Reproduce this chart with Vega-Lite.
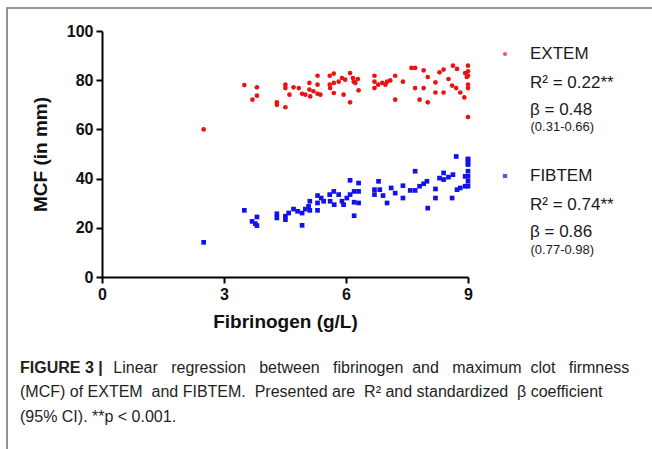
{
  "$schema": "https://vega.github.io/schema/vega-lite/v6.json",
  "width": 366,
  "height": 246,
  "autosize": {"type": "none"},
  "padding": {"left": 102, "top": 31, "right": 184, "bottom": 172},
  "background": "white",
  "title": {
    "text": "FIGURE 3 |",
    "subtitle": [
      "\u200b\u00a0\u00a0\u00a0\u00a0\u00a0\u00a0\u00a0\u00a0\u00a0\u00a0\u00a0\u00a0\u00a0\u00a0\u00a0\u00a0\u00a0\u00a0\u00a0\u00a0\u00a0Linear \u00a0\u00a0regression \u00a0\u00a0between \u00a0\u00a0fibrinogen \u00a0and \u00a0\u00a0maximum \u00a0clot \u00a0\u00a0firmness",
      "(MCF) of EXTEM \u00a0and FIBTEM. \u00a0Presented are \u00a0R² and standardized \u00a0β coefficient",
      "(95% CI). **p < 0.001."
    ],
    "orient": "bottom",
    "anchor": "start",
    "frame": "group",
    "offset": -450,
    "dx": -82,
    "font": "Liberation Sans",
    "fontSize": 16,
    "fontWeight": "bold",
    "color": "#231f20",
    "subtitleFont": "Liberation Sans",
    "subtitleFontSize": 16,
    "subtitleFontWeight": "normal",
    "subtitleColor": "#231f20",
    "subtitleLineHeight": 24.5,
    "subtitlePadding": -16
  },
  "data": {
    "values": [
      {"group": "EXTEM", "fibrinogen": 2.5, "mcf": 60},
      {"group": "EXTEM", "fibrinogen": 3.5, "mcf": 78},
      {"group": "EXTEM", "fibrinogen": 3.81, "mcf": 77.1},
      {"group": "EXTEM", "fibrinogen": 3.7, "mcf": 72.1},
      {"group": "EXTEM", "fibrinogen": 3.81, "mcf": 73.7},
      {"group": "EXTEM", "fibrinogen": 4.3, "mcf": 71},
      {"group": "EXTEM", "fibrinogen": 4.3, "mcf": 70},
      {"group": "EXTEM", "fibrinogen": 4.51, "mcf": 69},
      {"group": "EXTEM", "fibrinogen": 4.51, "mcf": 78.2},
      {"group": "EXTEM", "fibrinogen": 4.51, "mcf": 76.8},
      {"group": "EXTEM", "fibrinogen": 4.61, "mcf": 74.1},
      {"group": "EXTEM", "fibrinogen": 4.71, "mcf": 77.1},
      {"group": "EXTEM", "fibrinogen": 4.84, "mcf": 76.8},
      {"group": "EXTEM", "fibrinogen": 4.92, "mcf": 74.5},
      {"group": "EXTEM", "fibrinogen": 5.0, "mcf": 74.1},
      {"group": "EXTEM", "fibrinogen": 5.1, "mcf": 78.9},
      {"group": "EXTEM", "fibrinogen": 5.1, "mcf": 76.2},
      {"group": "EXTEM", "fibrinogen": 5.12, "mcf": 73.4},
      {"group": "EXTEM", "fibrinogen": 5.2, "mcf": 75.5},
      {"group": "EXTEM", "fibrinogen": 5.3, "mcf": 81.8},
      {"group": "EXTEM", "fibrinogen": 5.3, "mcf": 78.2},
      {"group": "EXTEM", "fibrinogen": 5.3, "mcf": 74.5},
      {"group": "EXTEM", "fibrinogen": 5.37, "mcf": 74.1},
      {"group": "EXTEM", "fibrinogen": 5.6, "mcf": 81.8},
      {"group": "EXTEM", "fibrinogen": 5.7, "mcf": 82.7},
      {"group": "EXTEM", "fibrinogen": 5.6, "mcf": 78.2},
      {"group": "EXTEM", "fibrinogen": 5.7, "mcf": 78.9},
      {"group": "EXTEM", "fibrinogen": 5.61, "mcf": 76.8},
      {"group": "EXTEM", "fibrinogen": 5.7, "mcf": 74.8},
      {"group": "EXTEM", "fibrinogen": 5.82, "mcf": 79.4},
      {"group": "EXTEM", "fibrinogen": 5.9, "mcf": 80.9},
      {"group": "EXTEM", "fibrinogen": 5.94, "mcf": 74.1},
      {"group": "EXTEM", "fibrinogen": 5.98, "mcf": 80.2},
      {"group": "EXTEM", "fibrinogen": 6.1, "mcf": 82.9},
      {"group": "EXTEM", "fibrinogen": 6.1, "mcf": 71},
      {"group": "EXTEM", "fibrinogen": 6.17, "mcf": 80.9},
      {"group": "EXTEM", "fibrinogen": 6.19, "mcf": 79.4},
      {"group": "EXTEM", "fibrinogen": 6.29, "mcf": 80.5},
      {"group": "EXTEM", "fibrinogen": 6.31, "mcf": 75.9},
      {"group": "EXTEM", "fibrinogen": 6.23, "mcf": 78.9},
      {"group": "EXTEM", "fibrinogen": 6.7, "mcf": 81.8},
      {"group": "EXTEM", "fibrinogen": 6.7, "mcf": 79.4},
      {"group": "EXTEM", "fibrinogen": 6.7, "mcf": 76.8},
      {"group": "EXTEM", "fibrinogen": 6.79, "mcf": 78.2},
      {"group": "EXTEM", "fibrinogen": 6.89, "mcf": 78.9},
      {"group": "EXTEM", "fibrinogen": 6.97, "mcf": 78.2},
      {"group": "EXTEM", "fibrinogen": 7.01, "mcf": 79.4},
      {"group": "EXTEM", "fibrinogen": 7.09, "mcf": 79.9},
      {"group": "EXTEM", "fibrinogen": 7.21, "mcf": 81.8},
      {"group": "EXTEM", "fibrinogen": 7.21, "mcf": 72.1},
      {"group": "EXTEM", "fibrinogen": 7.4, "mcf": 79.4},
      {"group": "EXTEM", "fibrinogen": 7.61, "mcf": 85},
      {"group": "EXTEM", "fibrinogen": 7.7, "mcf": 85},
      {"group": "EXTEM", "fibrinogen": 7.7, "mcf": 76.8},
      {"group": "EXTEM", "fibrinogen": 7.81, "mcf": 72.1},
      {"group": "EXTEM", "fibrinogen": 7.91, "mcf": 84},
      {"group": "EXTEM", "fibrinogen": 7.91, "mcf": 76.8},
      {"group": "EXTEM", "fibrinogen": 8.01, "mcf": 81.3},
      {"group": "EXTEM", "fibrinogen": 8.01, "mcf": 71},
      {"group": "EXTEM", "fibrinogen": 8.2, "mcf": 79.1},
      {"group": "EXTEM", "fibrinogen": 8.2, "mcf": 75},
      {"group": "EXTEM", "fibrinogen": 8.3, "mcf": 83.2},
      {"group": "EXTEM", "fibrinogen": 8.4, "mcf": 84.3},
      {"group": "EXTEM", "fibrinogen": 8.4, "mcf": 75},
      {"group": "EXTEM", "fibrinogen": 8.52, "mcf": 80.5},
      {"group": "EXTEM", "fibrinogen": 8.61, "mcf": 77.8},
      {"group": "EXTEM", "fibrinogen": 8.63, "mcf": 85.9},
      {"group": "EXTEM", "fibrinogen": 8.73, "mcf": 84.6},
      {"group": "EXTEM", "fibrinogen": 8.71, "mcf": 76.8},
      {"group": "EXTEM", "fibrinogen": 8.81, "mcf": 75},
      {"group": "EXTEM", "fibrinogen": 8.91, "mcf": 73},
      {"group": "EXTEM", "fibrinogen": 8.93, "mcf": 82.9},
      {"group": "EXTEM", "fibrinogen": 9.0, "mcf": 85.9},
      {"group": "EXTEM", "fibrinogen": 9.0, "mcf": 83.6},
      {"group": "EXTEM", "fibrinogen": 9.0, "mcf": 81.8},
      {"group": "EXTEM", "fibrinogen": 8.97, "mcf": 81.3},
      {"group": "EXTEM", "fibrinogen": 9.0, "mcf": 78.2},
      {"group": "EXTEM", "fibrinogen": 9.0, "mcf": 76.8},
      {"group": "EXTEM", "fibrinogen": 9.0, "mcf": 65},
      {"group": "FIBTEM", "fibrinogen": 2.5, "mcf": 14.1},
      {"group": "FIBTEM", "fibrinogen": 3.5, "mcf": 27.1},
      {"group": "FIBTEM", "fibrinogen": 3.69, "mcf": 22.6},
      {"group": "FIBTEM", "fibrinogen": 3.77, "mcf": 21.7},
      {"group": "FIBTEM", "fibrinogen": 3.81, "mcf": 24.4},
      {"group": "FIBTEM", "fibrinogen": 3.81, "mcf": 20.9},
      {"group": "FIBTEM", "fibrinogen": 4.3, "mcf": 25.7},
      {"group": "FIBTEM", "fibrinogen": 4.3, "mcf": 24},
      {"group": "FIBTEM", "fibrinogen": 4.51, "mcf": 23.3},
      {"group": "FIBTEM", "fibrinogen": 4.51, "mcf": 24.7},
      {"group": "FIBTEM", "fibrinogen": 4.59, "mcf": 26},
      {"group": "FIBTEM", "fibrinogen": 4.71, "mcf": 27.6},
      {"group": "FIBTEM", "fibrinogen": 4.81, "mcf": 26.7},
      {"group": "FIBTEM", "fibrinogen": 4.92, "mcf": 26},
      {"group": "FIBTEM", "fibrinogen": 4.92, "mcf": 21},
      {"group": "FIBTEM", "fibrinogen": 5.0, "mcf": 27.6},
      {"group": "FIBTEM", "fibrinogen": 5.08, "mcf": 28.7},
      {"group": "FIBTEM", "fibrinogen": 5.11, "mcf": 30.8},
      {"group": "FIBTEM", "fibrinogen": 5.11, "mcf": 27.1},
      {"group": "FIBTEM", "fibrinogen": 5.3, "mcf": 30.1},
      {"group": "FIBTEM", "fibrinogen": 5.3, "mcf": 33.1},
      {"group": "FIBTEM", "fibrinogen": 5.3, "mcf": 27.1},
      {"group": "FIBTEM", "fibrinogen": 5.39, "mcf": 32.1},
      {"group": "FIBTEM", "fibrinogen": 5.45, "mcf": 30.8},
      {"group": "FIBTEM", "fibrinogen": 5.6, "mcf": 33.5},
      {"group": "FIBTEM", "fibrinogen": 5.7, "mcf": 34.8},
      {"group": "FIBTEM", "fibrinogen": 5.61, "mcf": 30.8},
      {"group": "FIBTEM", "fibrinogen": 5.71, "mcf": 29.4},
      {"group": "FIBTEM", "fibrinogen": 5.82, "mcf": 33.5},
      {"group": "FIBTEM", "fibrinogen": 5.9, "mcf": 30.8},
      {"group": "FIBTEM", "fibrinogen": 5.94, "mcf": 29.4},
      {"group": "FIBTEM", "fibrinogen": 6.02, "mcf": 32.1},
      {"group": "FIBTEM", "fibrinogen": 6.1, "mcf": 39.3},
      {"group": "FIBTEM", "fibrinogen": 6.1, "mcf": 33.5},
      {"group": "FIBTEM", "fibrinogen": 6.2, "mcf": 34.8},
      {"group": "FIBTEM", "fibrinogen": 6.2, "mcf": 30.4},
      {"group": "FIBTEM", "fibrinogen": 6.2, "mcf": 24.9},
      {"group": "FIBTEM", "fibrinogen": 6.31, "mcf": 38.2},
      {"group": "FIBTEM", "fibrinogen": 6.31, "mcf": 34.8},
      {"group": "FIBTEM", "fibrinogen": 6.31, "mcf": 30.1},
      {"group": "FIBTEM", "fibrinogen": 6.7, "mcf": 35.5},
      {"group": "FIBTEM", "fibrinogen": 6.7, "mcf": 33.5},
      {"group": "FIBTEM", "fibrinogen": 6.8, "mcf": 38.9},
      {"group": "FIBTEM", "fibrinogen": 6.83, "mcf": 35.5},
      {"group": "FIBTEM", "fibrinogen": 6.91, "mcf": 33.1},
      {"group": "FIBTEM", "fibrinogen": 7.01, "mcf": 30.1},
      {"group": "FIBTEM", "fibrinogen": 7.11, "mcf": 36.2},
      {"group": "FIBTEM", "fibrinogen": 7.21, "mcf": 34.1},
      {"group": "FIBTEM", "fibrinogen": 7.4, "mcf": 37.1},
      {"group": "FIBTEM", "fibrinogen": 7.4, "mcf": 32.1},
      {"group": "FIBTEM", "fibrinogen": 7.58, "mcf": 35.2},
      {"group": "FIBTEM", "fibrinogen": 7.7, "mcf": 43},
      {"group": "FIBTEM", "fibrinogen": 7.7, "mcf": 35.2},
      {"group": "FIBTEM", "fibrinogen": 7.81, "mcf": 36.9},
      {"group": "FIBTEM", "fibrinogen": 7.91, "mcf": 37.9},
      {"group": "FIBTEM", "fibrinogen": 7.99, "mcf": 38.9},
      {"group": "FIBTEM", "fibrinogen": 8.01, "mcf": 28},
      {"group": "FIBTEM", "fibrinogen": 8.2, "mcf": 35.8},
      {"group": "FIBTEM", "fibrinogen": 8.2, "mcf": 32.1},
      {"group": "FIBTEM", "fibrinogen": 8.3, "mcf": 40.2},
      {"group": "FIBTEM", "fibrinogen": 8.4, "mcf": 42.3},
      {"group": "FIBTEM", "fibrinogen": 8.4, "mcf": 39.6},
      {"group": "FIBTEM", "fibrinogen": 8.52, "mcf": 40.6},
      {"group": "FIBTEM", "fibrinogen": 8.61, "mcf": 32.1},
      {"group": "FIBTEM", "fibrinogen": 8.63, "mcf": 41.6},
      {"group": "FIBTEM", "fibrinogen": 8.73, "mcf": 35.5},
      {"group": "FIBTEM", "fibrinogen": 8.81, "mcf": 36.2},
      {"group": "FIBTEM", "fibrinogen": 8.93, "mcf": 36.9},
      {"group": "FIBTEM", "fibrinogen": 9.0, "mcf": 47.7},
      {"group": "FIBTEM", "fibrinogen": 9.0, "mcf": 45.7},
      {"group": "FIBTEM", "fibrinogen": 9.0, "mcf": 43},
      {"group": "FIBTEM", "fibrinogen": 9.0, "mcf": 40.9},
      {"group": "FIBTEM", "fibrinogen": 9.0, "mcf": 38.9},
      {"group": "FIBTEM", "fibrinogen": 9.0, "mcf": 36.9},
      {"group": "FIBTEM", "fibrinogen": 8.93, "mcf": 40.9},
      {"group": "FIBTEM", "fibrinogen": 8.71, "mcf": 49},
      {"group": "FIBTEM", "fibrinogen": 9.0, "mcf": 48},
      {"group": "FIBTEM", "fibrinogen": 9.0, "mcf": 46.3}
    ]
  },
  "mark": {"type": "point", "filled": true},
  "encoding": {
    "x": {
      "field": "fibrinogen", "type": "quantitative",
      "scale": {"domain": [0, 9], "nice": false, "zero": false},
      "axis": {"values": [0, 3, 6, 9], "title": "Fibrinogen (g/L)", "titlePadding": 10}
    },
    "y": {
      "field": "mcf", "type": "quantitative",
      "scale": {"domain": [0, 100], "nice": false},
      "axis": {"values": [0, 20, 40, 60, 80, 100], "title": "MCF (in mm)", "titlePadding": 16}
    },
    "color": {
      "field": "group", "type": "nominal",
      "scale": {"range": ["#ee1111", "#1111ee"]},
      "legend": {"orient": "none", "legendX": 394.5, "legendY": 14.5, "title": null, "padding": 0,
                 "labelFontSize": 17, "labelOffset": 16.5, "symbolSize": 18, "rowPadding": 104}
    },
    "shape": {
      "field": "group", "type": "nominal",
      "scale": {"range": ["circle", "square"]},
      "legend": {"orient": "none", "legendX": 394.5, "legendY": 14.5, "title": null, "padding": 0,
                 "labelFontSize": 17, "labelOffset": 16.5, "symbolSize": 18, "rowPadding": 104}
    },
    "opacity": {
      "field": "group", "type": "ordinal",
      "scale": {"domain": ["EXTEM", "FIBTEM"], "range": [1, 1]},
      "legend": {"orient": "none", "legendX": 411, "legendY": 35.5, "title": null, "padding": 0,
                 "labelFontSize": 17, "labelOffset": 0, "symbolSize": 0, "symbolStrokeWidth": 0,
                 "labelBaseline": "top", "rowPadding": 71,
                 "labelExpr": "datum.label == 'EXTEM' ? ['R² = 0.22**', 'β = 0.48'] : ['R² = 0.74**', 'β = 0.86']"}
    },
    "size": {
      "field": "group", "type": "ordinal",
      "scale": {"domain": ["EXTEM", "FIBTEM"], "range": [22, 22]},
      "legend": {"orient": "right", "offset": -40.5, "title": null, "padding": 89.5,
                 "labelFontSize": 13, "labelOffset": 0, "symbolOpacity": 0, "symbolStrokeWidth": 0,
                 "rowPadding": 109,
                 "labelExpr": "datum.label == 'EXTEM' ? '(0.31-0.66)' : '(0.77-0.98)'"}
    },
    "strokeWidth": {
      "field": "fibrinogen", "type": "quantitative",
      "scale": {"range": [0, 0]},
      "legend": {"orient": "none", "legendX": -95, "legendY": -23, "title": null, "padding": 400,
                 "values": [5], "labelExpr": "''", "symbolSize": 0, "symbolStrokeWidth": 0,
                 "symbolOpacity": 0, "labelFontSize": 1, "strokeColor": "#707070"}
    }
  },
  "config": {
    "view": {"stroke": null},
    "font": "Liberation Sans",
    "style": {"guide-label": {"lineHeight": 26.5}},
    "axis": {
      "grid": false,
      "domainColor": "#000000", "domainWidth": 2,
      "tickColor": "#000000", "tickWidth": 2, "tickSize": 6,
      "labelFont": "Liberation Sans", "labelFontSize": 16, "labelFontWeight": "bold",
      "labelColor": "#111111", "labelPadding": 3, "labelFlush": false,
      "titleFont": "Liberation Sans", "titleFontSize": 19, "titleFontWeight": "bold",
      "titleColor": "#111111"
    },
    "legend": {"labelFont": "Liberation Sans", "labelColor": "#1a1a1a", "strokeWidth": 1.5}
  }
}
